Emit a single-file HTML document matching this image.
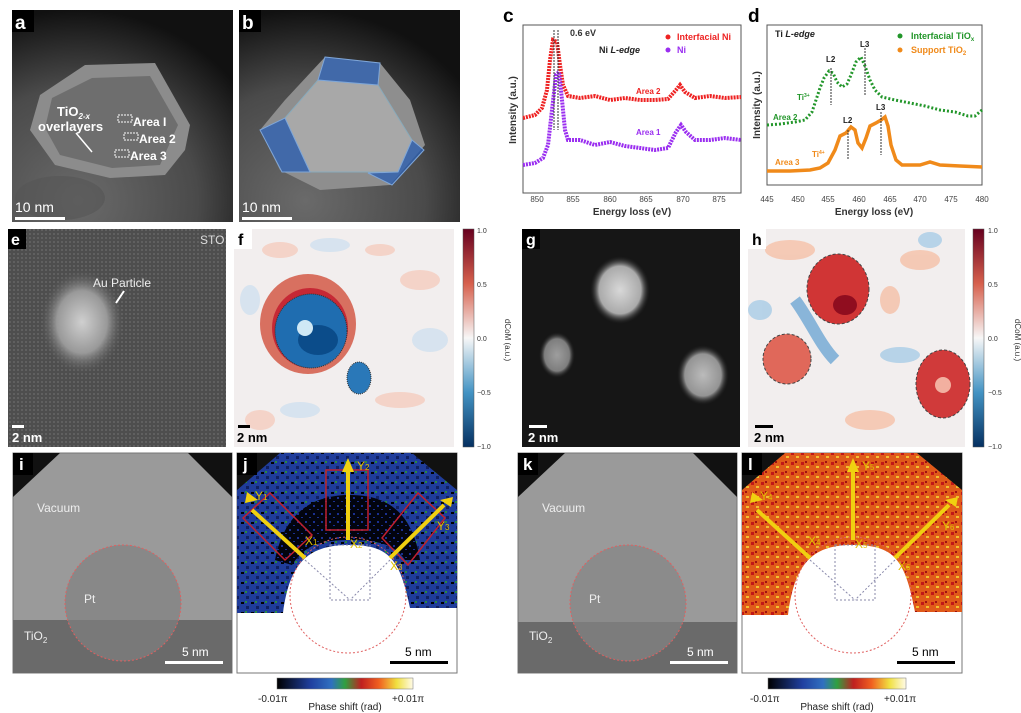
<!DOCTYPE html>
<html><head><meta charset="utf-8"><style>
html,body{margin:0;padding:0;background:#fff;width:1021px;height:713px;overflow:hidden}
svg{display:block;font-family:"Liberation Sans",sans-serif}
</style></head><body>
<svg width="1021" height="713" viewBox="0 0 1021 713">
<defs>
<radialGradient id="au" cx="0.5" cy="0.5" r="0.5"><stop offset="0" stop-color="#cfcfcf"/><stop offset="0.6" stop-color="#999"/><stop offset="1" stop-color="#555" stop-opacity="0"/></radialGradient>
<radialGradient id="gb" cx="0.5" cy="0.5" r="0.5"><stop offset="0" stop-color="#d8d8d8"/><stop offset="0.7" stop-color="#aaa"/><stop offset="1" stop-color="#222" stop-opacity="0"/></radialGradient>
<radialGradient id="gl" cx="0.3" cy="0.9" r="0.9"><stop offset="0" stop-color="#6a6a6a"/><stop offset="0.6" stop-color="#4a4a4a"/><stop offset="1" stop-color="#111"/></radialGradient>
<linearGradient id="cb1" x1="0" y1="0" x2="0" y2="1"><stop offset="0" stop-color="#67001f"/><stop offset="0.25" stop-color="#d6604d"/><stop offset="0.5" stop-color="#f7f7f7"/><stop offset="0.75" stop-color="#4393c3"/><stop offset="1" stop-color="#053061"/></linearGradient>
<linearGradient id="cb2" x1="0" y1="0" x2="1" y2="0"><stop offset="0" stop-color="#000"/><stop offset="0.25" stop-color="#2040a0"/><stop offset="0.4" stop-color="#3070c0"/><stop offset="0.5" stop-color="#30a040"/><stop offset="0.62" stop-color="#c02020"/><stop offset="0.75" stop-color="#f06020"/><stop offset="0.88" stop-color="#f0e040"/><stop offset="1" stop-color="#fffbe8"/></linearGradient>
<pattern id="dots" width="4" height="4" patternUnits="userSpaceOnUse"><rect width="4" height="4" fill="#4e4e4e"/><circle cx="2" cy="2" r="1" fill="#666"/></pattern>
<pattern id="jn" width="10" height="10" patternUnits="userSpaceOnUse"><rect width="10" height="10" fill="#1f3c9a"/><rect x="1" y="2" width="3" height="2" fill="#000"/><rect x="6" y="6" width="3" height="3" fill="#102060"/><rect x="5" y="1" width="2" height="2" fill="#2a8a40"/></pattern>
<pattern id="jd" width="8" height="8" patternUnits="userSpaceOnUse"><rect width="8" height="8" fill="#02040e"/><rect x="1" y="1" width="2" height="2" fill="#1a3090"/><rect x="5" y="5" width="2" height="1" fill="#1a3090"/></pattern>
<pattern id="ln" width="10" height="10" patternUnits="userSpaceOnUse"><rect width="10" height="10" fill="#e05a1a"/><rect x="1" y="2" width="3" height="3" fill="#c01818"/><rect x="6" y="6" width="3" height="2" fill="#f0c030"/><rect x="5" y="1" width="2" height="2" fill="#a01010"/></pattern>
</defs>

<!-- a -->
<rect x="12" y="10" width="221" height="212" fill="url(#gl)"/>
<ellipse cx="60" cy="198" rx="45" ry="22" fill="#555" opacity="0.6"/>
<polygon points="85,65 155,63 190,125 185,150 165,175 110,178 55,165 30,130 40,95" fill="#8c8c8c"/>
<polygon points="92,78 150,76 178,125 160,165 112,168 60,155 45,128 52,98" fill="#6e6e6e"/>
<rect x="12" y="10" width="22" height="22" fill="#000"/><text x="15" y="29" font-size="19" font-weight="bold" fill="#fff">a</text>
<text x="57" y="116" font-size="13" font-weight="bold" fill="#fff">TiO<tspan font-size="8" dy="3" font-style="italic">2-x</tspan></text>
<text x="38" y="131" font-size="13" font-weight="bold" fill="#fff">overlayers</text>
<line x1="76" y1="133" x2="92" y2="152" stroke="#fff" stroke-width="1.5"/>
<g fill="none" stroke="#fff" stroke-dasharray="2,1"><rect x="118" y="115" width="14" height="7"/><rect x="124" y="133" width="14" height="7"/><rect x="115" y="150" width="14" height="7"/></g>
<text x="133" y="126" font-size="12" font-weight="bold" fill="#fff">Area I</text><text x="139" y="143" font-size="12" font-weight="bold" fill="#fff">Area 2</text><text x="130" y="160" font-size="12" font-weight="bold" fill="#fff">Area 3</text>
<rect x="15" y="217" width="50" height="3" fill="#fff"/><text x="15" y="212" font-size="14" fill="#fff">10 nm</text>
<!-- b -->
<rect x="239" y="10" width="221" height="212" fill="url(#gl)"/>
<polygon points="325,57 380,63 410,100 425,145 390,185 320,190 280,170 260,130 285,100" fill="#8e8e8e"/>
<polygon points="318,80 378,85 412,140 398,172 310,172 285,118" fill="#a8a8a8" stroke="#8ab" stroke-width="1"/>
<g fill="#2e60b0" fill-opacity="0.8" stroke="#7fa6d8"><polygon points="325,57 380,63 378,85 318,80"/><polygon points="260,130 285,118 310,172 282,172"/><polygon points="398,172 412,140 424,150 392,185 368,173"/></g>
<rect x="239" y="10" width="22" height="22" fill="#000"/><text x="242" y="29" font-size="19" font-weight="bold" fill="#fff">b</text>
<rect x="242" y="217" width="50" height="3" fill="#fff"/><text x="242" y="212" font-size="14" fill="#fff">10 nm</text>

<!-- c -->
<text x="503" y="22" font-size="19" font-weight="bold">c</text>
<rect x="523" y="25" width="218" height="168" fill="none" stroke="#555"/>
<g font-size="8" fill="#444" text-anchor="middle"><text x="537" y="202">850</text><text x="573" y="202">855</text><text x="610" y="202">860</text><text x="646" y="202">865</text><text x="683" y="202">870</text><text x="719" y="202">875</text></g>
<text x="632" y="215" font-size="10" font-weight="bold" text-anchor="middle" fill="#333">Energy loss (eV)</text>
<text transform="translate(516,110) rotate(-90)" font-size="10" font-weight="bold" text-anchor="middle" fill="#333">Intensity (a.u.)</text>
<polyline fill="none" stroke="#ee2222" stroke-width="4" stroke-dasharray="2,1" points="523,118 535,115 542,108 547,90 550,60 553,40 557,42 560,65 563,85 568,96 580,98 595,96 610,100 625,98 640,100 655,100 668,99 676,90 680,85 685,92 695,98 710,96 725,98 741,97"/>
<polyline fill="none" stroke="#9a2ef0" stroke-width="4" stroke-dasharray="2,1" points="523,165 535,163 543,158 548,145 552,110 556,75 559,72 562,100 565,130 568,140 580,140 595,145 610,142 625,146 640,148 655,150 668,148 676,132 681,125 686,132 695,140 710,140 725,138 741,140"/>
<line x1="554" y1="30" x2="554" y2="130" stroke="#333" stroke-dasharray="2,1"/><line x1="558" y1="30" x2="558" y2="130" stroke="#333" stroke-dasharray="2,1"/>
<text x="570" y="36" font-size="9" font-weight="bold" fill="#333">0.6 eV</text>
<text x="599" y="53" font-size="9" font-weight="bold" fill="#222">Ni <tspan font-style="italic">L-edge</tspan></text>
<circle cx="668" cy="37" r="2.5" fill="#e22"/><text x="677" y="40" font-size="9" font-weight="bold" fill="#e22">Interfacial Ni</text>
<circle cx="668" cy="50" r="2.5" fill="#9a2ef0"/><text x="677" y="53" font-size="9" font-weight="bold" fill="#9a2ef0">Ni</text>
<text x="636" y="94" font-size="8" font-weight="bold" fill="#e22">Area 2</text>
<text x="636" y="135" font-size="8" font-weight="bold" fill="#9a2ef0">Area 1</text>

<!-- d -->
<text x="748" y="22" font-size="19" font-weight="bold">d</text>
<rect x="767" y="25" width="215" height="160" fill="none" stroke="#555"/>
<g font-size="8" fill="#444" text-anchor="middle"><text x="767" y="202">445</text><text x="798" y="202">450</text><text x="828" y="202">455</text><text x="859" y="202">460</text><text x="890" y="202">465</text><text x="920" y="202">470</text><text x="951" y="202">475</text><text x="982" y="202">480</text></g>
<text x="874" y="215" font-size="10" font-weight="bold" text-anchor="middle" fill="#333">Energy loss (eV)</text>
<text transform="translate(760,105) rotate(-90)" font-size="10" font-weight="bold" text-anchor="middle" fill="#333">Intensity (a.u.)</text>
<polyline fill="none" stroke="#22962a" stroke-width="3" stroke-dasharray="2,2" points="767,125 780,124 795,122 805,120 812,112 816,100 820,88 824,78 829,71 833,73 837,82 842,87 847,84 851,75 856,62 861,57 865,66 870,80 875,90 882,97 895,100 910,103 925,106 940,110 955,112 968,116 975,116 982,110"/>
<polyline fill="none" stroke="#f08a1a" stroke-width="3.5" points="767,171 790,171 810,170 820,168 828,163 835,150 840,136 846,133 851,127 855,130 858,143 862,148 866,138 870,126 876,123 881,120 885,117 888,126 891,145 896,160 902,165 920,165 930,162 940,165 960,166 982,167"/>
<line x1="831" y1="68" x2="831" y2="105" stroke="#333" stroke-dasharray="2,1"/><line x1="865" y1="48" x2="865" y2="95" stroke="#333" stroke-dasharray="2,1"/>
<line x1="848" y1="130" x2="848" y2="160" stroke="#333" stroke-dasharray="2,1"/><line x1="881" y1="112" x2="881" y2="155" stroke="#333" stroke-dasharray="2,1"/>
<g font-size="8" font-weight="bold" fill="#222"><text x="826" y="62">L2</text><text x="860" y="47">L3</text><text x="843" y="123">L2</text><text x="876" y="110">L3</text></g>
<text x="775" y="37" font-size="9" font-weight="bold" fill="#222">Ti <tspan font-style="italic">L-edge</tspan></text>
<circle cx="900" cy="36" r="2.5" fill="#22962a"/><text x="911" y="39" font-size="9" font-weight="bold" fill="#22962a">Interfacial TiO<tspan font-size="6" dy="2">x</tspan></text>
<circle cx="900" cy="50" r="2.5" fill="#f08a1a"/><text x="911" y="53" font-size="9" font-weight="bold" fill="#f08a1a">Support TiO<tspan font-size="6" dy="2">2</tspan></text>
<text x="797" y="100" font-size="8" font-weight="bold" fill="#22962a">Ti<tspan font-size="5" dy="-3">3+</tspan></text>
<text x="773" y="120" font-size="8" font-weight="bold" fill="#22962a">Area 2</text>
<text x="812" y="157" font-size="8" font-weight="bold" fill="#f08a1a">Ti<tspan font-size="5" dy="-3">4+</tspan></text>
<text x="775" y="165" font-size="8" font-weight="bold" fill="#f08a1a">Area 3</text>

<!-- e -->
<rect x="8" y="229" width="218" height="218" fill="url(#dots)"/>
<ellipse cx="82" cy="322" rx="42" ry="52" fill="url(#au)"/>
<rect x="8" y="229" width="18" height="20" fill="#000"/><text x="11" y="245" font-size="16" font-weight="bold" fill="#fff">e</text>
<text x="200" y="244" font-size="12" fill="#ddd">STO</text>
<text x="93" y="287" font-size="12" fill="#eee">Au Particle</text>
<line x1="124" y1="291" x2="116" y2="303" stroke="#fff" stroke-width="2"/>
<rect x="12" y="425" width="12" height="3" fill="#fff"/><text x="12" y="442" font-size="13" font-weight="bold" fill="#fff">2 nm</text>

<!-- f -->
<rect x="234" y="229" width="220" height="218" fill="#f2eeee"/>
<g fill="#f5c8b8" opacity="0.7"><ellipse cx="280" cy="250" rx="18" ry="8"/><ellipse cx="420" cy="280" rx="20" ry="10"/><ellipse cx="260" cy="420" rx="15" ry="10"/><ellipse cx="400" cy="400" rx="25" ry="8"/><ellipse cx="380" cy="250" rx="15" ry="6"/></g>
<g fill="#cfe0ef" opacity="0.8"><ellipse cx="330" cy="245" rx="20" ry="7"/><ellipse cx="430" cy="340" rx="18" ry="12"/><ellipse cx="300" cy="410" rx="20" ry="8"/><ellipse cx="250" cy="300" rx="10" ry="15"/></g>
<ellipse cx="308" cy="324" rx="48" ry="50" fill="#d87060"/>
<ellipse cx="310" cy="328" rx="38" ry="40" fill="#c62835"/>
<ellipse cx="311" cy="331" rx="36" ry="37" fill="#1f6db0" stroke="#333" stroke-dasharray="1,1"/>
<ellipse cx="318" cy="340" rx="20" ry="15" fill="#0b4c8a"/>
<ellipse cx="305" cy="328" rx="8" ry="8" fill="#cfe8f5"/>
<ellipse cx="359" cy="378" rx="12" ry="16" fill="#2a78b8" stroke="#333" stroke-dasharray="1,1"/>
<rect x="234" y="229" width="18" height="20" fill="#fff"/><text x="238" y="245" font-size="16" font-weight="bold">f</text>
<rect x="238" y="425" width="12" height="3" fill="#000"/><text x="237" y="442" font-size="13" font-weight="bold">2 nm</text>
<rect x="463" y="229" width="11" height="218" fill="url(#cb1)" stroke="#555" stroke-width="0.5"/>
<g font-size="7" fill="#333"><text x="477" y="233">1.0</text><text x="477" y="287">0.5</text><text x="477" y="341">0.0</text><text x="477" y="395">−0.5</text><text x="477" y="449">−1.0</text></g>
<text transform="translate(505,340) rotate(90)" font-size="8" text-anchor="middle" fill="#333">dCoM (a.u.)</text>

<!-- g -->
<rect x="522" y="229" width="218" height="218" fill="#161616"/>
<ellipse cx="620" cy="290" rx="30" ry="34" fill="url(#gb)"/>
<ellipse cx="557" cy="355" rx="18" ry="23" fill="url(#gb)" opacity="0.7"/>
<ellipse cx="703" cy="375" rx="26" ry="30" fill="url(#gb)" opacity="0.85"/>
<rect x="522" y="229" width="18" height="20" fill="#000"/><text x="526" y="245" font-size="16" font-weight="bold" fill="#fff">g</text>
<rect x="529" y="425" width="18" height="3" fill="#fff"/><text x="528" y="442" font-size="13" font-weight="bold" fill="#fff">2 nm</text>

<!-- h -->
<rect x="748" y="229" width="217" height="218" fill="#f2eeee"/>
<g fill="#f5c0a8" opacity="0.8"><ellipse cx="790" cy="250" rx="25" ry="10"/><ellipse cx="920" cy="260" rx="20" ry="10"/><ellipse cx="890" cy="300" rx="10" ry="14"/><ellipse cx="870" cy="420" rx="25" ry="10"/></g>
<g fill="#a8cce6" opacity="0.8"><path d="M795,300 C810,320 820,345 835,360" stroke="#6fa8d5" stroke-width="12" fill="none"/><ellipse cx="900" cy="355" rx="20" ry="8"/><ellipse cx="760" cy="310" rx="12" ry="10"/><ellipse cx="930" cy="240" rx="12" ry="8"/></g>
<ellipse cx="838" cy="289" rx="31" ry="35" fill="#d03535" stroke="#444" stroke-dasharray="3,2"/>
<ellipse cx="845" cy="305" rx="12" ry="10" fill="#900d1f"/>
<ellipse cx="787" cy="359" rx="24" ry="25" fill="#e0685a" stroke="#444" stroke-dasharray="3,2"/>
<ellipse cx="943" cy="384" rx="27" ry="34" fill="#d03a3a" stroke="#444" stroke-dasharray="3,2"/>
<ellipse cx="943" cy="385" rx="8" ry="8" fill="#f2b0a0"/>
<rect x="748" y="229" width="18" height="20" fill="#fff"/><text x="752" y="245" font-size="16" font-weight="bold">h</text>
<rect x="755" y="425" width="18" height="3" fill="#000"/><text x="754" y="442" font-size="13" font-weight="bold">2 nm</text>
<rect x="973" y="229" width="11" height="218" fill="url(#cb1)" stroke="#555" stroke-width="0.5"/>
<g font-size="7" fill="#333"><text x="988" y="233">1.0</text><text x="988" y="287">0.5</text><text x="988" y="341">0.0</text><text x="988" y="395">−0.5</text><text x="988" y="449">−1.0</text></g>
<text transform="translate(1015,340) rotate(90)" font-size="8" text-anchor="middle" fill="#333">dCoM (a.u.)</text>

<!-- i -->
<rect x="13" y="453" width="219" height="220" fill="#9a9a9a" stroke="#777"/>
<rect x="13" y="620" width="219" height="53" fill="#6a6a6a"/>
<polygon points="13,453 60,453 13,497" fill="#111"/><polygon points="188,453 232,453 232,497" fill="#111"/>
<circle cx="123" cy="603" r="58" fill="#808080" opacity="0.7"/>
<circle cx="123" cy="603" r="58" fill="none" stroke="#e06060" stroke-dasharray="2,2"/>
<rect x="13" y="453" width="20" height="22" fill="#000"/><text x="19" y="470" font-size="17" font-weight="bold" fill="#fff">i</text>
<text x="37" y="512" font-size="12" fill="#eee">Vacuum</text>
<text x="84" y="603" font-size="12" fill="#eee">Pt</text>
<text x="24" y="640" font-size="12" fill="#eee">TiO<tspan font-size="8" dy="3">2</tspan></text>
<rect x="165" y="661" width="58" height="3" fill="#fff"/><text x="182" y="656" font-size="12" fill="#fff">5 nm</text>

<!-- j -->
<rect x="237" y="453" width="220" height="220" fill="#fff" stroke="#777"/>
<path d="M237,453 H457 V608 H410 C400,560 390,545 350,545 C310,545 290,560 283,613 H237 Z" fill="url(#jn)"/>
<path d="M275,560 C285,510 315,495 350,495 C385,495 412,510 420,560 L405,560 C395,545 380,540 350,540 C320,540 305,545 292,565 Z" fill="url(#jd)"/>
<polygon points="237,453 280,453 237,490" fill="#111"/><polygon points="412,453 457,453 457,490" fill="#111"/>
<circle cx="348" cy="595" r="58" fill="none" stroke="#e06060" stroke-dasharray="2,2"/>
<g fill="none" stroke="#c02030" stroke-width="1.5"><rect x="326" y="470" width="42" height="60"/><polygon points="243,518 270,493 312,535 285,560"/><polygon points="382,538 418,493 445,518 408,565"/></g>
<g stroke="#f0d010" stroke-width="4" fill="#f0d010"><line x1="348" y1="540" x2="348" y2="470"/><line x1="305" y1="558" x2="252" y2="510"/><line x1="390" y1="558" x2="444" y2="505"/></g>
<g fill="#f0d010"><polygon points="342,472 354,472 348,458"/><polygon points="245,503 258,500 247,492"/><polygon points="440,500 451,507 453,497"/></g>
<g fill="none" stroke="#88a" stroke-dasharray="2,2"><polygon points="330,545 370,545 370,600 330,600"/><line x1="305" y1="560" x2="350" y2="600"/><line x1="390" y1="560" x2="350" y2="600"/></g>
<g font-size="12" fill="#e0c000"><text x="357" y="470">Y<tspan font-size="8">2</tspan></text><text x="350" y="548">X<tspan font-size="8">2</tspan></text><text x="305" y="545">X<tspan font-size="8">1</tspan></text><text x="390" y="570">X<tspan font-size="8">3</tspan></text><text x="255" y="500">Y<tspan font-size="8">1</tspan></text><text x="437" y="530">Y<tspan font-size="8">3</tspan></text></g>
<rect x="237" y="453" width="20" height="22" fill="#000"/><text x="243" y="470" font-size="17" font-weight="bold" fill="#fff">j</text>
<rect x="390" y="661" width="58" height="3" fill="#000"/><text x="405" y="656" font-size="12">5 nm</text>
<rect x="277" y="678" width="136" height="11" fill="url(#cb2)" stroke="#777" stroke-width="0.5"/>
<text x="258" y="702" font-size="10" fill="#222">-0.01π</text><text x="392" y="702" font-size="10" fill="#222">+0.01π</text>
<text x="345" y="710" font-size="10" text-anchor="middle" fill="#222">Phase shift (rad)</text>

<!-- k -->
<rect x="518" y="453" width="219" height="220" fill="#9a9a9a" stroke="#777"/>
<rect x="518" y="622" width="219" height="51" fill="#6a6a6a"/>
<polygon points="518,453 565,453 518,497" fill="#111"/><polygon points="693,453 737,453 737,497" fill="#111"/>
<circle cx="628" cy="603" r="58" fill="#858585" opacity="0.7"/>
<circle cx="628" cy="603" r="58" fill="none" stroke="#e06060" stroke-dasharray="2,2"/>
<text x="542" y="512" font-size="12" fill="#eee">Vacuum</text>
<text x="589" y="603" font-size="12" fill="#eee">Pt</text>
<text x="529" y="640" font-size="12" fill="#eee">TiO<tspan font-size="8" dy="3">2</tspan></text>
<rect x="518" y="453" width="20" height="22" fill="#000"/><text x="523" y="470" font-size="17" font-weight="bold" fill="#fff">k</text>
<rect x="670" y="661" width="58" height="3" fill="#fff"/><text x="687" y="656" font-size="12" fill="#fff">5 nm</text>

<!-- l -->
<rect x="742" y="453" width="220" height="220" fill="#fff" stroke="#777"/>
<path d="M742,453 H962 V612 H915 C905,560 895,545 853,545 C815,545 795,560 788,615 H742 Z" fill="url(#ln)"/>
<polygon points="742,453 785,453 742,490" fill="#111"/><polygon points="917,453 962,453 962,490" fill="#111"/>
<circle cx="853" cy="595" r="58" fill="none" stroke="#e06060" stroke-dasharray="2,2"/>
<g stroke="#f0d010" stroke-width="4"><line x1="853" y1="540" x2="853" y2="470"/><line x1="810" y1="558" x2="757" y2="510"/><line x1="895" y1="558" x2="949" y2="505"/></g>
<g fill="#f0d010"><polygon points="847,472 859,472 853,458"/><polygon points="750,503 763,500 752,492"/><polygon points="945,500 956,507 958,497"/></g>
<g fill="none" stroke="#88a" stroke-dasharray="2,2"><polygon points="835,545 875,545 875,600 835,600"/><line x1="810" y1="560" x2="855" y2="600"/><line x1="895" y1="560" x2="855" y2="600"/></g>
<g font-size="12" fill="#e0c000"><text x="862" y="470">Y<tspan font-size="8">5</tspan></text><text x="855" y="548">X<tspan font-size="8">5</tspan></text><text x="808" y="545">X<tspan font-size="8">4</tspan></text><text x="898" y="570">X<tspan font-size="8">6</tspan></text><text x="760" y="500">Y<tspan font-size="8">4</tspan></text><text x="942" y="530">Y<tspan font-size="8">6</tspan></text></g>
<rect x="742" y="453" width="20" height="22" fill="#000"/><text x="748" y="470" font-size="17" font-weight="bold" fill="#fff">l</text>
<rect x="897" y="661" width="58" height="3" fill="#000"/><text x="912" y="656" font-size="12">5 nm</text>
<rect x="768" y="678" width="138" height="11" fill="url(#cb2)" stroke="#777" stroke-width="0.5"/>
<text x="750" y="702" font-size="10" fill="#222">-0.01π</text><text x="884" y="702" font-size="10" fill="#222">+0.01π</text>
<text x="837" y="710" font-size="10" text-anchor="middle" fill="#222">Phase shift (rad)</text>
</svg>
</body></html>
